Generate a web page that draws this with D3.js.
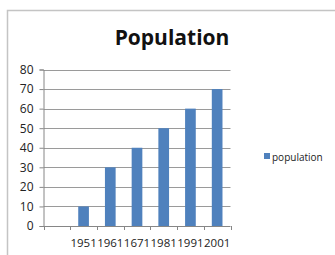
<!DOCTYPE html>
<html>
<head>
<meta charset="utf-8">
<script src="https://cdn.jsdelivr.net/npm/d3@7"></script>
<style>
  html, body { margin: 0; padding: 0; background: #fff; overflow: hidden; }
  svg { display: block; font-family: "Open Sans", sans-serif; }
</style>
</head>
<body>
<svg id="chart" width="335" height="255"></svg>
<script>
// Valores; la primera categoría va vacía (sin barra)
const categories = ['', '1951', '1961', '1671', '1981', '1991', '2001'];
const population = [null, 10, 30, 40, 50, 60, 70];
const yTicks = [0, 10, 20, 30, 40, 50, 60, 70, 80];
const title = 'Population';
const seriesName = 'population';

const rows = categories.map((c, i) => ({ cat: c, value: population[i] }));

const svg = d3.select('#chart');
const plot = { left: 43.5, right: 230.5, top: 69.5, bottom: 226 };

// marco del área del gráfico (se sale por la derecha y abajo)
svg.append('rect')
  .attr('x', 7.5).attr('y', 10.5)
  .attr('width', 340).attr('height', 260)
  .attr('fill', 'none').attr('stroke', '#c4c4c4').attr('stroke-width', 1.5);

svg.append('text')
  .attr('x', 172).attr('y', 44.5)
  .attr('text-anchor', 'middle')
  .attr('font-size', 21).attr('font-weight', 700).attr('fill', '#111')
  .text(title);

const x = d3.scaleBand().domain(categories).range([plot.left, plot.right]).paddingInner(0.6).paddingOuter(0.3);
const y = d3.scaleLinear().domain([0, 80]).range([plot.bottom, plot.top]);

// líneas de cuadrícula
svg.append('g')
  .selectAll('line')
  .data(yTicks.filter((d) => d > 0))
  .join('line')
  .attr('x1', plot.left).attr('x2', plot.right)
  .attr('y1', (d) => Math.round(y(d)) + 0.5).attr('y2', (d) => Math.round(y(d)) + 0.5)
  .attr('stroke', '#9a9a9a').attr('stroke-width', 1);

svg.append('g')
  .selectAll('rect')
  .data(rows.filter((d) => d.value != null))
  .join('rect')
  .attr('x', (d) => x(d.cat))
  .attr('width', x.bandwidth())
  .attr('y', (d) => y(d.value))
  .attr('height', (d) => y(0) - y(d.value))
  .attr('fill', '#4f81bd');

// eje Y
const yAxis = svg.append('g')
  .attr('transform', `translate(${plot.left},0)`)
  .call(d3.axisLeft(y).tickValues(yTicks).tickSize(4).tickPadding(6));
yAxis.select('.domain').attr('stroke', '#868686');
yAxis.selectAll('.tick line').attr('stroke', '#868686');
yAxis.selectAll('.tick text').attr('font-family', '"Open Sans", sans-serif').attr('font-size', 12).attr('fill', '#222');

// eje X: marcas en los bordes de cada categoría
const step = x.step();
const xTickPos = d3.range(categories.length + 1).map((i) => plot.left + i * (plot.right - plot.left) / categories.length);
const xAxisG = svg.append('g');
xAxisG.append('line')
  .attr('x1', plot.left).attr('x2', plot.right)
  .attr('y1', Math.round(y(0)) + 0.5).attr('y2', Math.round(y(0)) + 0.5)
  .attr('stroke', '#868686');
xAxisG.selectAll('line.tk')
  .data(xTickPos)
  .join('line')
  .attr('class', 'tk')
  .attr('x1', (d) => Math.round(d) + 0.5).attr('x2', (d) => Math.round(d) + 0.5)
  .attr('y1', Math.round(y(0))).attr('y2', Math.round(y(0)) + 4)
  .attr('stroke', '#868686');
xAxisG.selectAll('text')
  .data(categories.filter((c) => c !== ''))
  .join('text')
  .attr('x', (d) => x(d) + x.bandwidth() / 2)
  .attr('y', 246.5)
  .attr('text-anchor', 'middle')
  .attr('font-size', 11.5).attr('fill', '#222')
  .text((d) => d);

// leyenda
const legend = svg.append('g').attr('transform', 'translate(264,153)');
legend.append('rect').attr('width', 6).attr('height', 6).attr('fill', '#4f81bd');
legend.append('text').attr('x', 8).attr('y', 7.5).attr('font-size', 10).attr('fill', '#222').text(seriesName);
</script>
</body>
</html>
